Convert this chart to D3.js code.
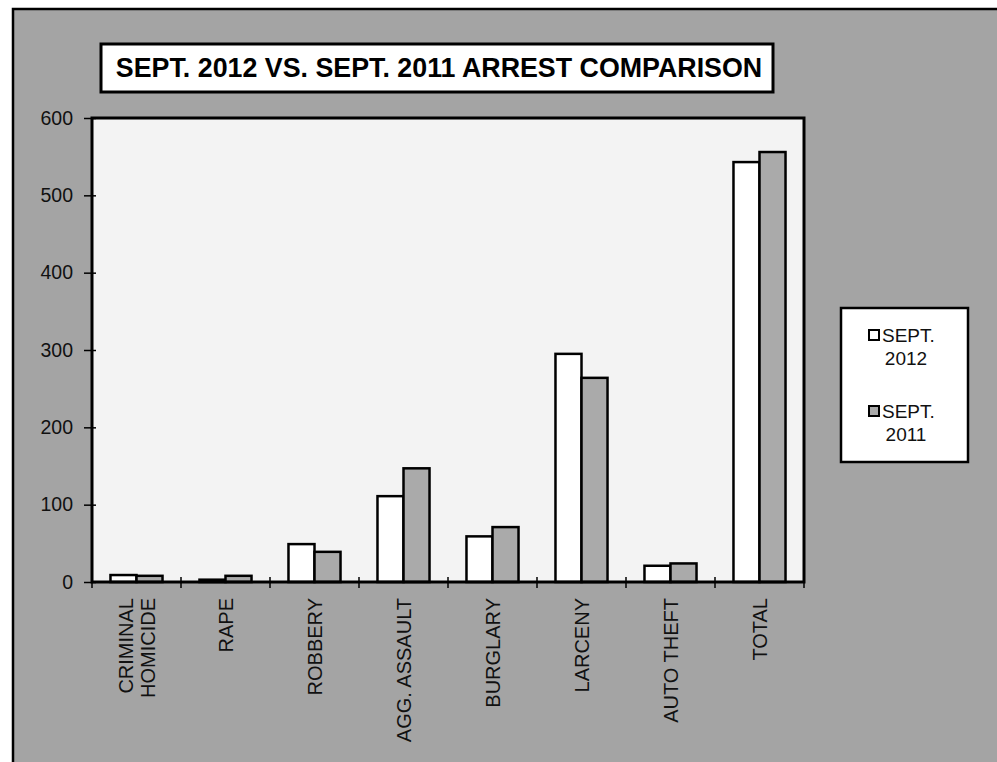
<!DOCTYPE html>
<html>
<head>
<meta charset="utf-8">
<script src="https://cdn.jsdelivr.net/npm/d3@7"></script>
<style>
  html, body { margin: 0; padding: 0; background: #ffffff; }
  svg { display: block; font-family: "Liberation Sans", Arial, sans-serif; }
</style>
</head>
<body>
<svg id="chart" width="997" height="762"></svg>
<script>
// ---- data ----
const title = "SEPT. 2012 VS. SEPT. 2011 ARREST COMPARISON";
const categories = ["CRIMINAL\nHOMICIDE", "RAPE", "ROBBERY", "AGG. ASSAULT", "BURGLARY", "LARCENY", "AUTO THEFT", "TOTAL"];
const seriesNames = ["SEPT.\n2012", "SEPT.\n2011"];
const sept2012 = [9, 3, 49, 111, 59, 295, 21, 543];
const sept2011 = [8, 8, 39, 147, 71, 264, 24, 556];
const yTicks = [0, 100, 200, 300, 400, 500, 600];

// ---- styles ----
const pageGray = "#a4a4a4";
const plotFill = "#f3f3f3";
const barFills = ["#ffffff", "#aaaaaa"];

const svg = d3.select("#chart");

// page frame
svg.append("rect").attr("x", 13).attr("y", 9).attr("width", 997 - 13 + 5).attr("height", 762 - 9 + 5)
  .attr("fill", pageGray).attr("stroke", "#000").attr("stroke-width", 2.5);

// plot geometry
const plot = { left: 92, right: 804, top: 118, bottom: 582 };

const x = d3.scaleBand().domain(categories).range([plot.left, plot.right]).padding(0);
const xs = d3.scaleBand().domain(seriesNames).range([0, x.bandwidth()]).paddingInner(0).paddingOuter(0.71);
const y = d3.scaleLinear().domain([0, 600]).range([plot.bottom, plot.top]);

// plot area
svg.append("rect").attr("x", plot.left).attr("y", plot.top)
  .attr("width", plot.right - plot.left).attr("height", plot.bottom - plot.top)
  .attr("fill", plotFill);

// bars
const rows = categories.map((c, i) => ({ cat: c, vals: [sept2012[i], sept2011[i]] }));
const g = svg.append("g");
g.selectAll("g.cat").data(rows).join("g").attr("class", "cat")
  .attr("transform", d => `translate(${x(d.cat)},0)`)
  .selectAll("rect").data(d => d.vals.map((v, k) => ({ v, k })))
  .join("rect")
  .attr("x", d => xs(seriesNames[d.k]))
  .attr("width", xs.bandwidth())
  .attr("y", d => y(d.v))
  .attr("height", d => y(0) - y(d.v))
  .attr("fill", d => barFills[d.k])
  .attr("stroke", "#000").attr("stroke-width", 2.5);

// plot border
svg.append("rect").attr("x", plot.left).attr("y", plot.top)
  .attr("width", plot.right - plot.left).attr("height", plot.bottom - plot.top)
  .attr("fill", "none").attr("stroke", "#000").attr("stroke-width", 3);

// y axis
const yAxis = d3.axisLeft(y).tickValues(yTicks).tickSize(8).tickPadding(11);
const yg = svg.append("g").attr("transform", `translate(${plot.left},0)`).call(yAxis);
yg.select(".domain").remove();
yg.selectAll(".tick line").attr("stroke", "#000").attr("stroke-width", 1.5).attr("x2", -8).attr("x1", 4);
yg.selectAll(".tick text").attr("font-size", 19.5).attr("fill", "#111")
  .attr("font-family", "'Liberation Sans', Arial, sans-serif");

// x ticks at category boundaries
const bounds = categories.map(c => x(c)).concat([plot.right]);
svg.append("g").selectAll("line").data(bounds).join("line")
  .attr("x1", d => d).attr("x2", d => d)
  .attr("y1", plot.bottom - 5).attr("y2", plot.bottom + 6)
  .attr("stroke", "#000").attr("stroke-width", 1.5);

// x labels (rotated)
const xl = svg.append("g");
categories.forEach(c => {
  const lines = c.split("\n");
  const cx = x(c) + x.bandwidth() / 2;
  const t = xl.append("text")
    .attr("transform", `translate(${cx},${plot.bottom + 16}) rotate(-90)`)
    .attr("text-anchor", "end").attr("font-size", 20).attr("fill", "#111");
  lines.forEach((ln, i) => {
    t.append("tspan").attr("x", 0)
      .attr("dy", i === 0 ? `${0.35 - (lines.length - 1) * 0.55}em` : "1.1em")
      .text(ln);
  });
});

// title box
svg.append("rect").attr("x", 101).attr("y", 44).attr("width", 672).attr("height", 48)
  .attr("fill", "#fff").attr("stroke", "#000").attr("stroke-width", 3);
svg.append("text").attr("x", 439).attr("y", 77).attr("text-anchor", "middle")
  .attr("font-size", 26.8).attr("font-weight", "bold").attr("fill", "#000").text(title);

// legend
const lg = svg.append("g");
lg.append("rect").attr("x", 841).attr("y", 308).attr("width", 127).attr("height", 154)
  .attr("fill", "#fff").attr("stroke", "#000").attr("stroke-width", 2.5);
const legY = [342, 418];
seriesNames.forEach((s, k) => {
  const parts = s.split("\n");
  lg.append("rect").attr("x", 869).attr("y", legY[k] - 12).attr("width", 10).attr("height", 10)
    .attr("fill", barFills[k]).attr("stroke", "#000").attr("stroke-width", 2);
  lg.append("text").attr("x", 882).attr("y", legY[k]).attr("font-size", 19).attr("fill", "#111").text(parts[0]);
  lg.append("text").attr("x", 906).attr("y", legY[k] + 23).attr("text-anchor", "middle")
    .attr("font-size", 19).attr("fill", "#111").text(parts[1]);
});
</script>
</body>
</html>
